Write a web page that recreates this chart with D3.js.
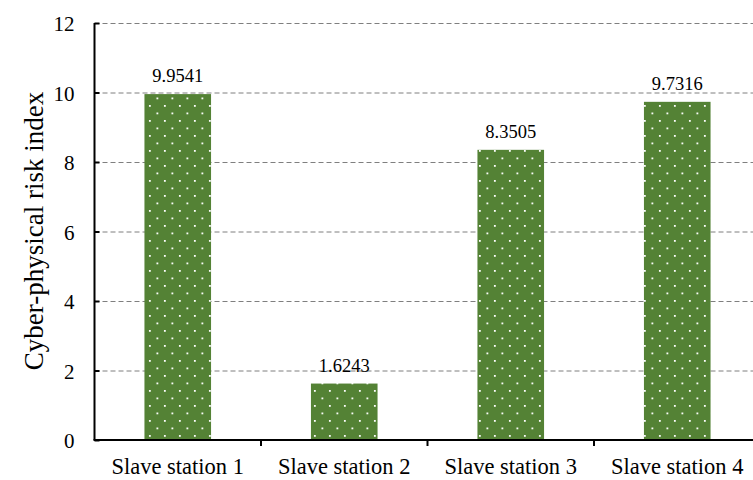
<!DOCTYPE html>
<html>
<head>
<meta charset="utf-8">
<script src="https://cdn.jsdelivr.net/npm/d3@7"></script>
<style>
  html, body { margin: 0; padding: 0; background: #fff; }
  svg { display: block; }
</style>
</head>
<body>
<svg id="chart" width="753" height="480"></svg>
<script>
// Risk index per slave station
const stations = ["Slave station 1", "Slave station 2", "Slave station 3", "Slave station 4"];
const riskValues = [9.9541, 1.6243, 8.3505, 9.7316];
const yTicks = [0, 2, 4, 6, 8, 10, 12];
const yTitle = "Cyber-physical risk index";

(function draw() {
  const svg = d3.select("#chart");
  const W = 753;
  const plotLeft = 94.5, plotTop = 23, plotBottom = 440, plotRight = 760.5;
  const font = "'Liberation Serif', 'Times New Roman', serif";

  const x = d3.scaleBand().domain(stations).range([plotLeft, plotRight])
    .paddingInner(0.6).paddingOuter(0.3);
  const y = d3.scaleLinear().domain([0, 12]).range([plotBottom, plotTop]);

  // dotted fill for the bars
  const defs = svg.append("defs");
  const pat = defs.append("pattern").attr("id", "dots")
    .attr("patternUnits", "userSpaceOnUse")
    .attr("width", 15).attr("height", 15)
    .attr("x", x(stations[0]) + 4.5).attr("y", 0);
  pat.append("rect").attr("width", 15).attr("height", 15).attr("fill", "#548235");
  pat.append("rect").attr("x", 0).attr("y", 0).attr("width", 1.8).attr("height", 1.8).attr("fill", "#fff");
  pat.append("rect").attr("x", 7.5).attr("y", 7.5).attr("width", 1.8).attr("height", 1.8).attr("fill", "#fff");

  // horizontal dashed gridlines
  svg.append("g").selectAll("line").data(yTicks.filter(d => d > 0)).join("line")
    .attr("x1", plotLeft).attr("x2", W)
    .attr("y1", d => y(d) + 0.5).attr("y2", d => y(d) + 0.5)
    .attr("stroke", "#7f7f7f").attr("stroke-width", 1)
    .attr("stroke-dasharray", "5,3");

  // bars
  svg.append("g").selectAll("rect").data(riskValues).join("rect")
    .attr("x", (d, i) => x(stations[i]))
    .attr("width", x.bandwidth())
    .attr("y", d => y(d))
    .attr("height", d => y(0) - y(d))
    .attr("fill", "url(#dots)");

  // value labels
  svg.append("g").selectAll("text").data(riskValues).join("text")
    .attr("x", (d, i) => x(stations[i]) + x.bandwidth() / 2)
    .attr("y", d => y(d) - 12)
    .attr("text-anchor", "middle")
    .attr("font-family", font).attr("font-size", 18.5)
    .attr("fill", "#000")
    .text(d => d.toFixed(4));

  // y axis
  const yAxis = d3.axisLeft(y).tickValues(yTicks).tickSize(-5).tickPadding(20)
    .tickFormat(d3.format("d"));
  const gy = svg.append("g").attr("transform", `translate(${plotLeft},0)`).call(yAxis);
  gy.select(".domain").attr("stroke", "#000").attr("stroke-width", 2)
    .attr("d", `M0,${plotTop}V${plotBottom}`);
  gy.selectAll(".tick line").attr("stroke", "#000").attr("stroke-width", 2);
  gy.selectAll(".tick text").attr("font-family", font).attr("font-size", 21)
    .attr("fill", "#000").attr("dy", "0.38em");

  // x axis with separators between categories
  const step = x.step();
  const gx = svg.append("g").attr("transform", `translate(0,${plotBottom})`);
  gx.append("line").attr("x1", plotLeft - 1).attr("x2", W).attr("y1", 0).attr("y2", 0)
    .attr("stroke", "#000").attr("stroke-width", 2);
  gx.selectAll("line.sep").data(stations.slice(1)).join("line").attr("class", "sep")
    .attr("x1", d => x(d) - step * 0.3).attr("x2", d => x(d) - step * 0.3)
    .attr("y1", 0).attr("y2", 6)
    .attr("stroke", "#000").attr("stroke-width", 2);
  gx.selectAll("text").data(stations).join("text")
    .attr("x", d => x(d) + x.bandwidth() / 2)
    .attr("y", 34)
    .attr("text-anchor", "middle")
    .attr("font-family", font).attr("font-size", 22.5).attr("fill", "#000")
    .text(d => d);

  // y title
  svg.append("text")
    .attr("transform", `translate(43,231) rotate(-90)`)
    .attr("text-anchor", "middle")
    .attr("font-family", font).attr("font-size", 27).attr("fill", "#000")
    .text(yTitle);
})();
</script>
</body>
</html>
